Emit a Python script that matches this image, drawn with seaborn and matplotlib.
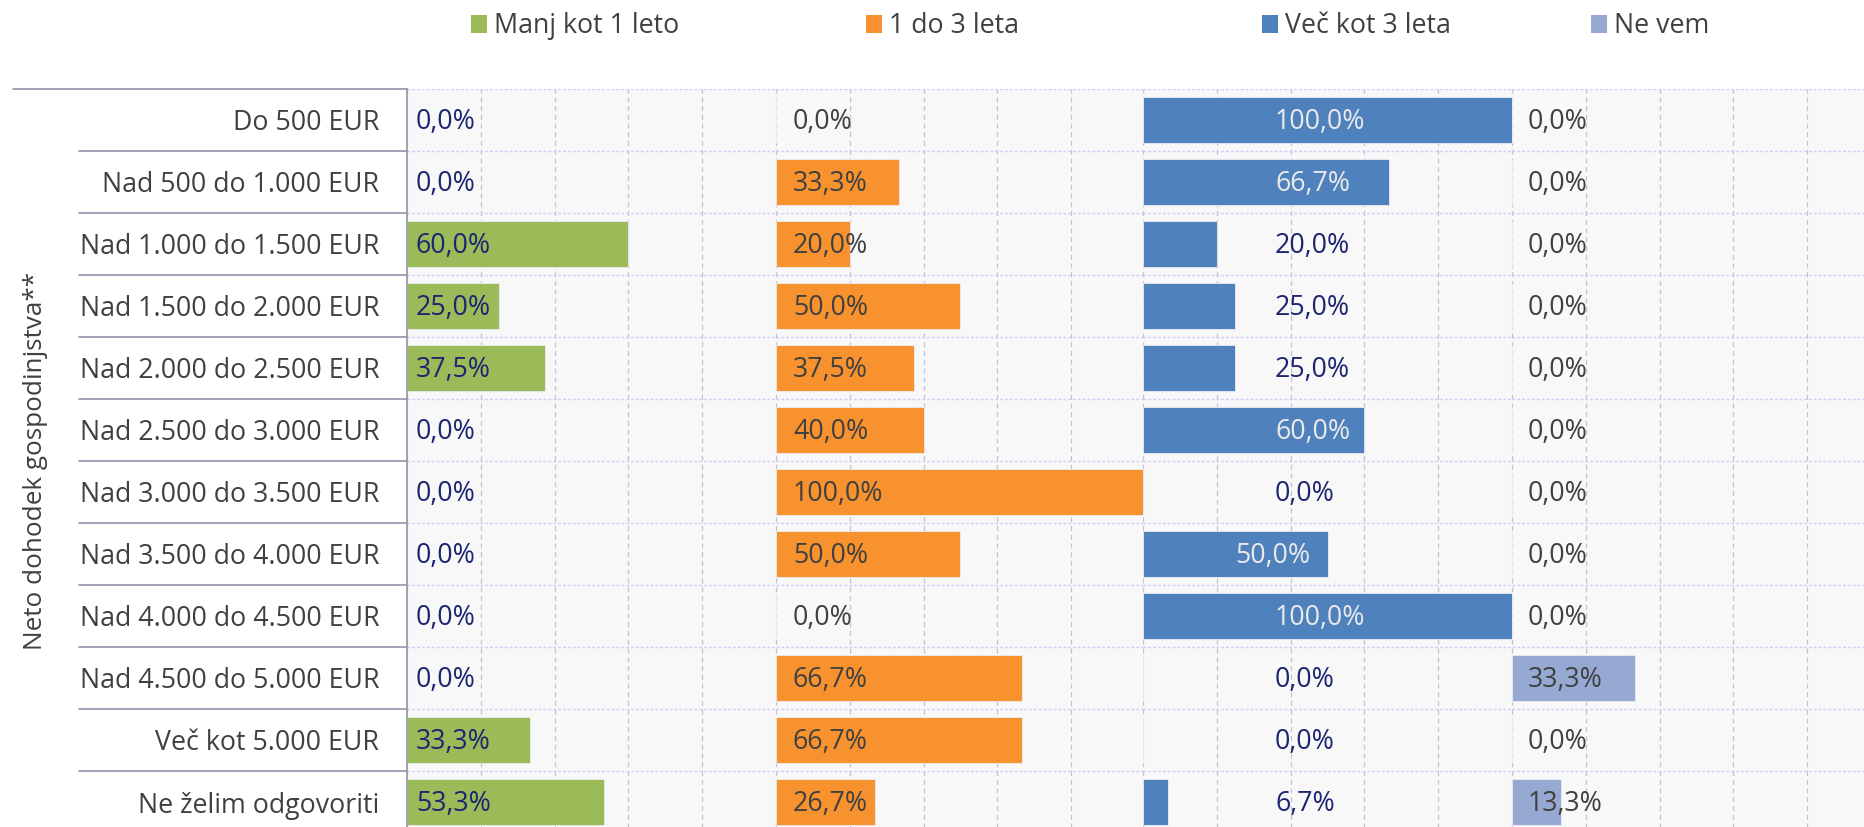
import matplotlib
matplotlib.use("Agg")
import matplotlib.pyplot as plt
from matplotlib.patches import Rectangle
import seaborn as sns

# data (shares in %)
categories = ["Do 500 EUR", "Nad 500 do 1.000 EUR", "Nad 1.000 do 1.500 EUR",
              "Nad 1.500 do 2.000 EUR", "Nad 2.000 do 2.500 EUR", "Nad 2.500 do 3.000 EUR",
              "Nad 3.000 do 3.500 EUR", "Nad 3.500 do 4.000 EUR", "Nad 4.000 do 4.500 EUR",
              "Nad 4.500 do 5.000 EUR", "Več kot 5.000 EUR", "Ne želim odgovoriti"]
series_names = ["Manj kot 1 leto", "1 do 3 leta", "Več kot 3 leta", "Ne vem"]
manj_1 = [0.0, 0.0, 60.0, 25.0, 37.5, 0.0, 0.0, 0.0, 0.0, 0.0, 33.3, 53.3]
do_3 = [0.0, 33.3, 20.0, 50.0, 37.5, 40.0, 100.0, 50.0, 0.0, 66.7, 66.7, 26.7]
vec_3 = [100.0, 66.7, 20.0, 25.0, 25.0, 60.0, 0.0, 50.0, 100.0, 0.0, 0.0, 6.7]
ne_vem = [0.0, 0.0, 0.0, 0.0, 0.0, 0.0, 0.0, 0.0, 0.0, 33.3, 0.0, 13.3]
y_title = "Neto dohodek gospodinjstva**"

sns.set_style("white")
plt.rcParams["font.family"] = ["Open Sans", "DejaVu Sans"]

W, H = 1865, 827
fig = plt.figure(figsize=(W / 100, H / 100), dpi=100)
fig.patch.set_facecolor("white")

colors = ["#9BBB59", "#F8922F", "#4F81BD", "#95A9D3"]
navy = "#1c2570"
grey = "#404040"
line_col = "#9494ac"
fs = 19.3

panel_left = [407, 776, 1143, 1512]
panel_w = 369
top_px, bot_px = 89, 833

# label offset inside each panel (in % of panel)
label_x = [2.4, 4.6, 35.8, 4.3]

all_series = [manj_1, do_3, vec_3, ne_vem]
axes = []
for i, vals in enumerate(all_series):
    ax = fig.add_axes([panel_left[i] / W, (H - bot_px) / H,
                       panel_w / W, (bot_px - top_px) / H])
    axes.append(ax)
    ax.set_facecolor("#f8f8f8")
    sns.barplot(x=vals, y=categories, orient="h", color=colors[i], width=0.75,
                saturation=1, edgecolor="#e8eef4", linewidth=0.6, ax=ax)
    ax.set_xlim(0, 100)
    ax.set_ylim(len(categories) - 0.5, -0.5)
    ax.set_xlabel("")
    ax.set_ylabel("")
    ax.set_xticks([0, 20, 40, 60, 80, 100])
    ax.set_xticklabels([])
    ax.set_yticks([k - 0.5 for k in range(len(categories) + 1)], minor=True)
    ax.grid(axis="x", which="major", color="#c2c2d0", linestyle=(0, (4, 3)), linewidth=0.9)
    ax.grid(axis="y", which="minor", color="#ccd0f0", linestyle=(0, (2, 1.5)), linewidth=1.0)
    ax.grid(axis="y", which="major", visible=False)
    ax.set_axisbelow(True)
    ax.tick_params(axis="both", which="both", length=0)
    for s in ax.spines.values():
        s.set_visible(False)
    if i == 0:
        ax.spines["left"].set_visible(True)
        ax.spines["left"].set_color(line_col)
        ax.spines["left"].set_linewidth(1.2)
        ax.tick_params(axis="y", which="major", pad=20, labelsize=fs, labelcolor=grey)
    else:
        ax.set_yticklabels([])

    # data labels
    for r, v in enumerate(vals):
        txt = f"{v:.1f}".replace(".", ",") + "%"
        x = label_x[i]
        if i == 2 and v == 50.0:
            x = 25.0
        if i == 0:
            c = navy
        elif i == 2:
            c = "#eaeaea" if v > x else navy
        else:
            c = grey
        ax.text(x, r + 0.03, txt, ha="left", va="center", fontsize=fs, color=c)

# category separators on the left
ax0 = axes[0]
tr = ax0.get_yaxis_transform()
for k in range(len(categories) + 1):
    x0 = (13 - 407) / panel_w if k == 0 else (79 - 407) / panel_w
    ax0.plot([x0, 0], [k - 0.5, k - 0.5], color=line_col, linewidth=1.2,
             transform=tr, clip_on=False)

fig.text(36 / W, 1 - 461 / H, y_title, rotation=90, ha="center", va="center",
         fontsize=18.8, color=grey)

# legend
leg_x = [471, 866, 1262, 1591]
for i, name in enumerate(series_names):
    h = Rectangle((0, 0), 1, 1, facecolor=colors[i], edgecolor="none")
    fig.legend([h], [name], loc="center left", bbox_to_anchor=(leg_x[i] / W, 1 - 26 / H),
               frameon=False, fontsize=fs, handlelength=0.6, handleheight=0.65,
               handletextpad=0.25, borderpad=0, borderaxespad=0, labelcolor=grey)

fig.savefig("out.png", dpi=100)
